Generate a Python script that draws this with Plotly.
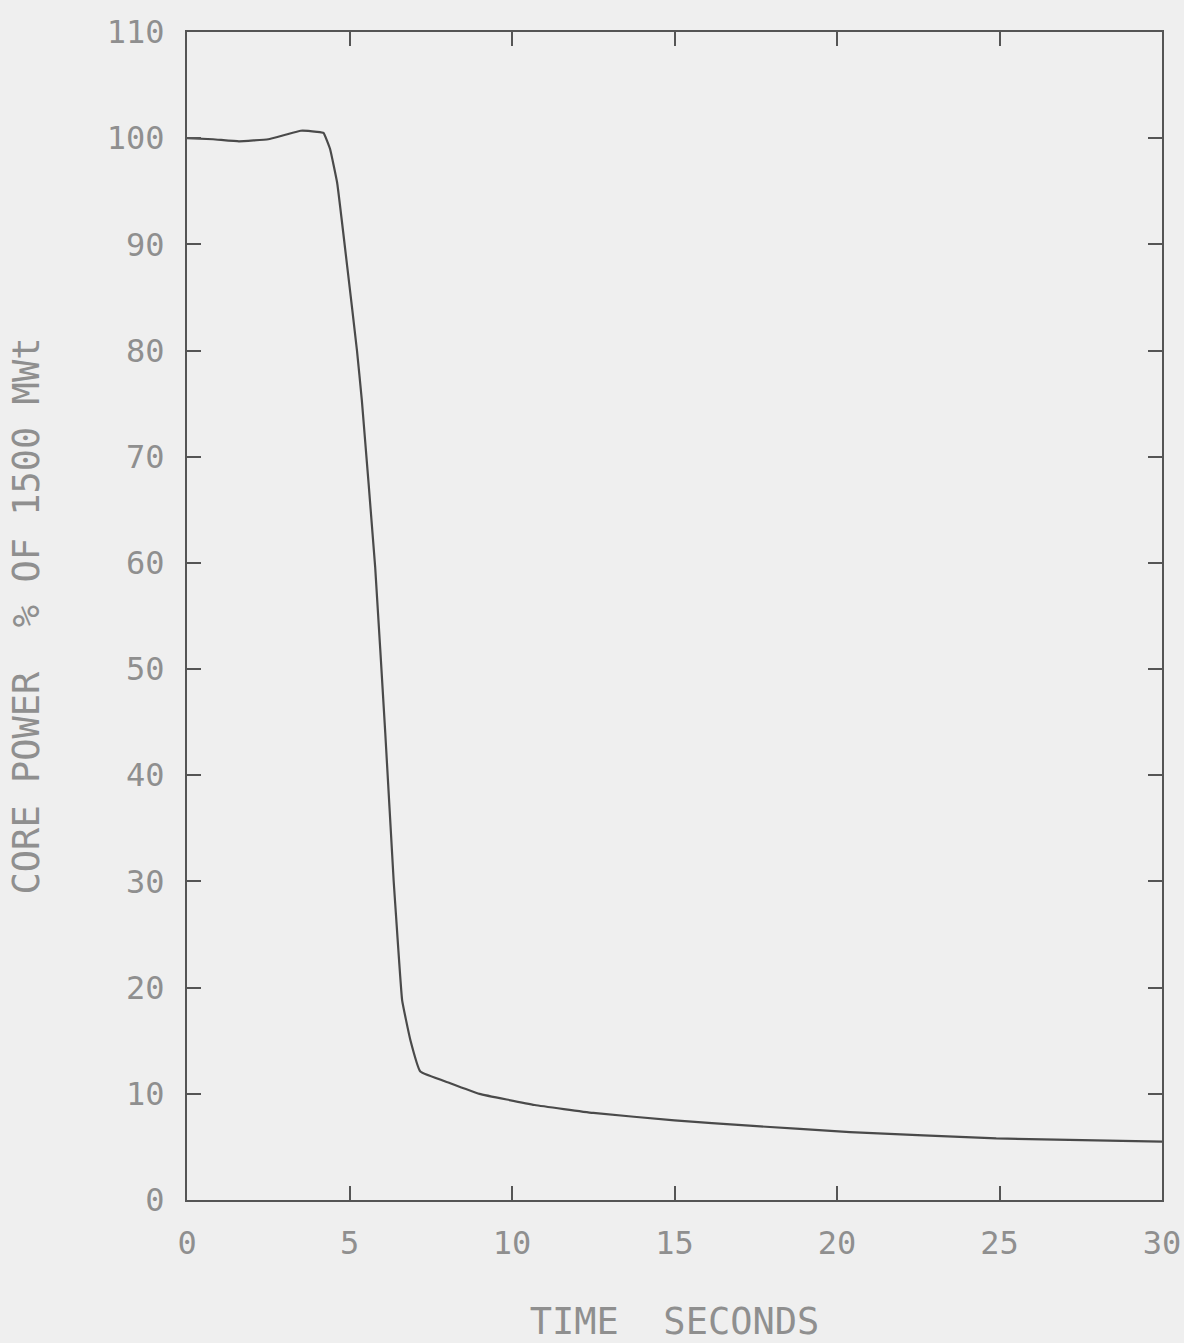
import plotly.graph_objects as go

# Data
time_s = [0, 0.8, 1.6, 2.5, 3.0, 3.5, 4.0, 4.2, 4.4, 4.62, 4.93, 5.23, 5.38, 5.79,
          6.10, 6.36, 6.44, 6.62, 6.87, 7.18, 8.1, 9.0, 10.7, 12.5, 15.0, 17.3,
          20.4, 24.9, 30]
core_power = [100, 99.9, 99.7, 99.9, 100.3, 100.7, 100.6, 100.5, 99.0, 95.8, 87.9,
              80.0, 75.3, 59.6, 44.0, 30.0, 26.4, 18.8, 15.1, 12.1, 11.0, 10.0,
              8.95, 8.2, 7.5, 7.0, 6.4, 5.8, 5.5]

x_ticks = [0, 5, 10, 15, 20, 25, 30]
y_ticks = [0, 10, 20, 30, 40, 50, 60, 70, 80, 90, 100, 110]

x_title = "TIME  SECONDS"
y_title = "CORE POWER  % OF 1500 MWt"

BG = "#efefef"
AX = "#555555"
TXT = "#8f8f8f"
FONT = "DejaVu Sans Mono"

fig = go.Figure()
fig.add_trace(go.Scatter(
    x=time_s, y=core_power, mode="lines",
    line=dict(color="#4a4a4a", width=2.2, shape="spline", smoothing=0.3),
    showlegend=False, hoverinfo="skip",
))

common = dict(
    showgrid=False, zeroline=False, showline=True, linecolor=AX, linewidth=2,
    mirror="ticks", ticks="inside", ticklen=14, tickwidth=1.5, tickcolor=AX,
    tickfont=dict(family=FONT, size=32, color=TXT), automargin=False,
)

fig.update_xaxes(
    range=[0, 30], tickvals=x_ticks, ticktext=[str(v) for v in x_ticks],
    title=dict(text=x_title, font=dict(family=FONT, size=37, color=TXT), standoff=50),
    ticklabelstandoff=14,
    **common,
)
fig.update_yaxes(
    range=[0, 110], tickvals=y_ticks, ticktext=[str(v) for v in y_ticks],
    title=dict(text=y_title, font=dict(family=FONT, size=37, color=TXT), standoff=56),
    ticklabelstandoff=14,
    **common,
)

fig.update_layout(
    width=1184, height=1343,
    margin=dict(l=187, r=22, t=32, b=143),
    paper_bgcolor=BG, plot_bgcolor=BG,
)

fig.write_html(
    "out.html",
    config={"displayModeBar": False},
    post_script=("document.body.style.margin='0';"
                 "document.body.style.background='#efefef';"),
)
